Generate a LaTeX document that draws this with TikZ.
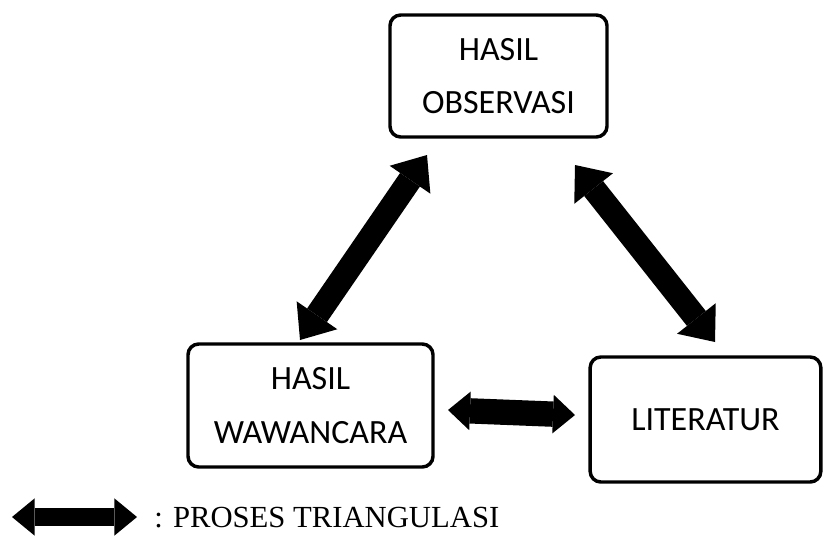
\documentclass[tikz,border=0pt]{standalone}
\usepackage{fontspec}
\setmainfont{Carlito}
\newfontfamily\legendfont{Liberation Serif}
\usetikzlibrary{arrows.meta}
\begin{document}
\begin{tikzpicture}[x=0.75pt,y=-0.75pt,
  box/.style={draw=black, line width=2.6pt, rounded corners=8pt, fill=white,
    align=center, inner sep=0pt, font=\fontsize{25.5pt}{40pt}\selectfont},
  diagarrow/.style={line width=18pt,
    {Triangle[length=22.5pt,width=37pt,line width=0pt]}-{Triangle[length=22.5pt,width=37pt,line width=0pt]}},
  horarrow/.style={line width=19pt,
    {Triangle[length=16.5pt,width=29pt,line width=0pt]}-{Triangle[length=16.5pt,width=29pt,line width=0pt]}},
  legarrow/.style={line width=14pt,
    {Triangle[length=17pt,width=28pt,line width=0pt]}-{Triangle[length=17pt,width=28pt,line width=0pt]}}
]
\useasboundingbox (0,0) rectangle (823,536);
% boxes
\node[box, minimum width=162.75pt, minimum height=91.5pt] (obs) at (498.5,76) {HASIL\\OBSERVASI};
\node[box, minimum width=183.75pt, minimum height=92.25pt] (wa) at (310.5,405.5) {HASIL\\WAWANCARA};
\node[box, minimum width=173pt, minimum height=93.75pt] (lit) at (705.5,419.5) {LITERATUR};
% arrow end points
\coordinate (a1) at (300,340);
\coordinate (a2) at (427,155);
\coordinate (b1) at (575,165);
\coordinate (b2) at (715,342);
\coordinate (c1) at (448,410);
\coordinate (c2) at (575,415);
\coordinate (d1) at (12,517);
\coordinate (d2) at (137,517);
\draw[diagarrow] (a1) -- (a2);
\draw[diagarrow] (b1) -- (b2);
\draw[horarrow] (c1) -- (c2);
\draw[legarrow] (d1) -- (d2);
\node[anchor=base west, inner sep=0pt, font=\legendfont\fontsize{23pt}{27pt}\selectfont] (leg) at (154,527) {: PROSES TRIANGULASI};
\end{tikzpicture}
\end{document}
